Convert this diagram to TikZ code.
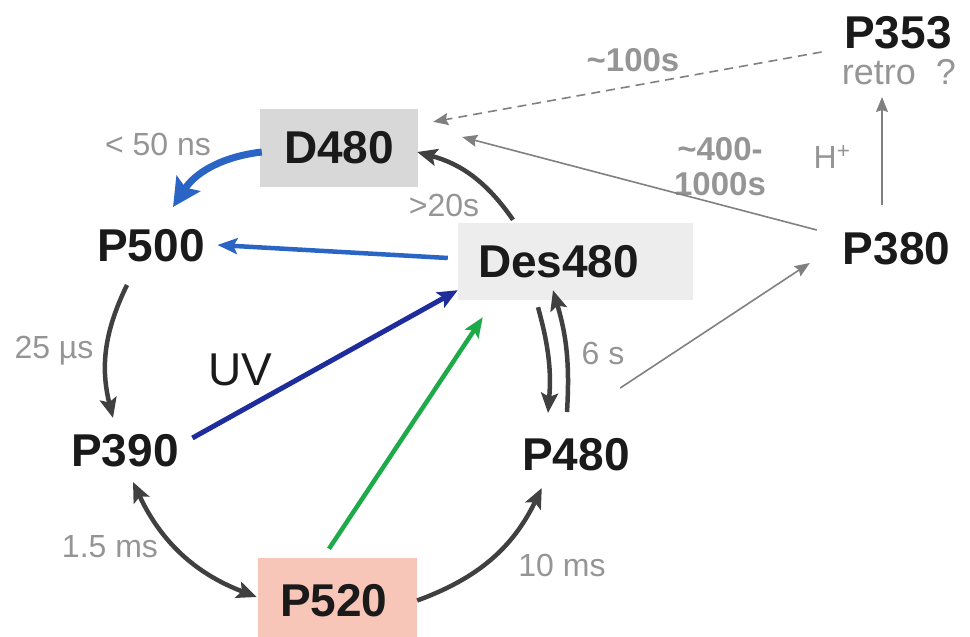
\documentclass[tikz,border=0pt]{standalone}
\usepackage{fontspec}
\setmainfont{Liberation Sans}
\usetikzlibrary{arrows.meta,calc}
\definecolor{txtblack}{HTML}{1A1A1A}
\definecolor{labgray}{HTML}{959595}
\definecolor{darkarr}{HTML}{404040}
\definecolor{thinarr}{HTML}{808080}
\definecolor{blueA}{HTML}{2A64C5}
\definecolor{uvblue}{HTML}{1E2C9C}
\definecolor{greenA}{HTML}{1FAA4A}
\definecolor{dfill}{HTML}{D8D8D8}
\definecolor{desfill}{HTML}{EDEDED}
\definecolor{pfill}{HTML}{F7C6B8}
\begin{document}
\begin{tikzpicture}[x=1pt,y=1pt,
  state/.style={font=\fontsize{46}{50}\selectfont\bfseries, text=txtblack, inner sep=0pt},
  lab/.style={font=\fontsize{32}{36}\selectfont, text=labgray, inner sep=0pt, text depth=0pt},
  labb/.style={font=\fontsize{33}{36}\selectfont\bfseries, text=labgray, inner sep=0pt, text depth=0pt},
  dark/.style={draw=darkarr, line width=4.5pt, -{Stealth[length=20pt,width=17pt,inset=4pt]}},
  thinarrow/.style={draw=thinarr, line width=1.6pt, -{Stealth[length=15pt,width=12pt,inset=2pt]}},
]
\useasboundingbox (0,0) rectangle (970,637);

% states
\node[state, fill=dfill, minimum width=158pt, minimum height=78pt] (d480) at (339,489) {D480};
\node[state] (p500) at (151,391) {P500};
\node[state, fill=desfill, minimum height=77pt] (des) at (575.5,375.5) {\makebox[235pt][l]{\hspace{20pt}Des480}};
\node[state] (p390) at (125,186) {P390};
\node[state] (p480) at (576,182) {P480};
\node[state, fill=pfill, minimum height=85pt] (p520) at (337.5,36.5) {\makebox[159pt][l]{\hspace{22pt}P520}};
\node[state] (p380) at (896.5,388) {P380};
\node[state] (p353) at (898,604) {P353};
\node[lab, font=\fontsize{36}{40}\selectfont] (retro) at (899,565) {retro\hspace{20pt}?};

% labels
\node[lab] (lt50) at (158,493) {< 50 ns};
\node[lab] (gt20) at (444,432) {>20s};
\node[labb] (s100) at (633,577) {\textasciitilde100s};
\node[labb, align=center] (s400) at (720,471) {\textasciitilde400-\\[-1pt]1000s};
\node[lab] (hplus) at (832,480) {H\textsuperscript{+}};
\node[lab] (us25) at (54,290) {25 µs};
\node[lab, font=\fontsize{46}{50}\selectfont, text=txtblack] (uv) at (240,267) {UV};
\node[lab] (s6) at (603,284) {6 s};
\node[lab] (ms15) at (110,91) {1.5 ms};
\node[lab] (ms10) at (562,72) {10 ms};

% connectors
\draw[draw=blueA, line width=7pt, -{Stealth[length=28pt,width=28pt,inset=5pt]}]
  ($(d480.west)+(2,-4)$) to[bend right=25] ($(p500.north)+(22,22.5)$);
\draw[draw=blueA, line width=4.5pt, -{Stealth[length=20pt,width=16pt,inset=4pt]}]
  ($(des.west)+(-10,3.5)$) -- ($(p500.east)+(12.5,1)$);
\draw[dark] ($(p500.south)+(-24,-22.5)$) to[bend right=20] ($(p390.north)+(-12,16.5)$);
\draw[dark, {Stealth[length=20pt,width=17pt,inset=4pt]}-{Stealth[length=20pt,width=17pt,inset=4pt]}]
  ($(p390.south)+(8,-14.5)$) to[bend right=22] ($(p520.west)+(-1,3.5)$);
\draw[draw=uvblue, line width=5pt, -{Stealth[length=20pt,width=17pt,inset=4pt]}]
  ($(p390.east)+(13.5,13)$) -- ($(des.south west)+(0,10)$);
\draw[draw=greenA, line width=4.5pt, -{Stealth[length=20pt,width=16pt,inset=4pt]}]
  ($(p520.north)+(-8.5,9)$) -- ($(des.south west)+(25,-17)$);
\draw[dark] (p520.east) to[bend right=22] ($(p480.south west)+(19.7,-16.5)$);
\draw[dark] ($(des.south)+(-37.5,-7)$) to[bend left=10] ($(p480.north)+(-28,25.5)$);
\draw[dark] ($(p480.north)+(-9,26.5)$) to[bend right=10] ($(des.south)+(-22.5,10)$);
\draw[dark] ($(des.north)+(-62.5,3)$) to[bend right=20] ($(d480.east)+(-1,-4)$);
\draw[thinarrow] ($(p380.west)+(-25.8,19)$) -- ($(d480.east)+(44,11)$);
\draw[thinarrow, dash pattern=on 9pt off 6pt] ($(p353.west)+(-22.5,-19)$) -- ($(d480.north east)+(15,-13)$);
\draw[thinarrow] ($(p380.north)+(-14.5,27.5)$) -- ($(retro.center)+(-17,-25)$);
\draw[thinarrow] ($(p480.north east)+(-9.7,50.5)$) -- ($(p380.west)+(-32.8,-14)$);
\end{tikzpicture}
\end{document}
